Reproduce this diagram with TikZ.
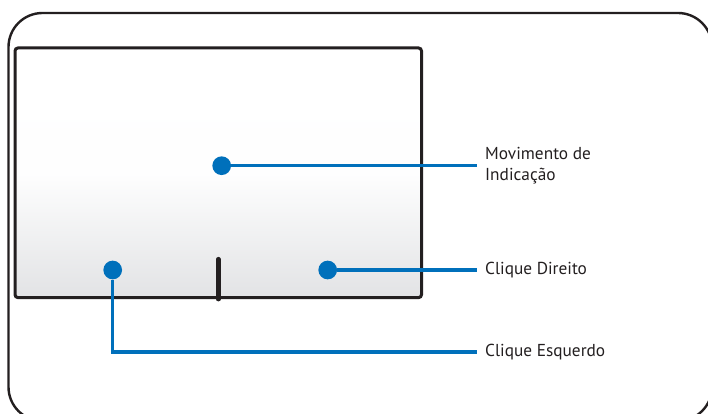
\documentclass[tikz,border=0pt]{standalone}
\usepackage{fontspec}
\setmainfont{PT Sans}
\usetikzlibrary{positioning}
\definecolor{padblue}{RGB}{0,112,187}
\definecolor{padedge}{RGB}{35,31,32}
\definecolor{padgray}{RGB}{226,227,229}
\tikzset{
  laptopframe/.style={
    draw=padedge, line width=2.4pt, rounded corners=34pt
  },
  padbox/.style={
    draw=padedge, line width=3pt, rounded corners=3pt,
    minimum width=406.5pt, minimum height=249.7pt,
    top color=white, bottom color=padgray, middle color=white!97!padgray
  },
  divider/.style={draw=padedge, line width=4.5pt, line cap=round},
  touchdot/.style={
    circle, fill=padblue, minimum size=18.7pt, inner sep=0pt
  },
  leader/.style={draw=padblue, line width=3.4pt},
  caption/.style={
    anchor=west, inner xsep=8pt, align=left,
    font=\fontsize{17.3}{21.5}\selectfont, text=padedge
  },
}

\begin{document}
\begin{tikzpicture}[x=1pt, y=1pt]
  \useasboundingbox (0,0) rectangle (708,413);
  \clip (0,0) rectangle (708,413);

  % laptop body and touchpad
  \draw[laptopframe] (8.5,400) rectangle (712,-8);
  \node[padbox] (pad) at (218.25,240.2) {};
  \draw[divider] (pad.south) -- ++(0,40);

  % touch points
  \node[touchdot] (dotmove)  at (221.7,247.3) {};
  \node[touchdot] (dotright) at (327.7,143) {};
  \node[touchdot] (dotleft)  at (112.7,143) {};

  % captions
  \node[caption] (movelbl)  at (477,247.3) {Movimento de\\Indicação};
  \node[caption] (rightlbl) at (477,143) {Clique Direito};
  \node[caption] (leftlbl)  at (477,61) {Clique Esquerdo};

  \draw[leader] (dotmove) -- (movelbl.west);
  \draw[leader] (dotright) -- (rightlbl.west);
  \draw[leader] (dotleft) |- (leftlbl.west);
\end{tikzpicture}
\end{document}
